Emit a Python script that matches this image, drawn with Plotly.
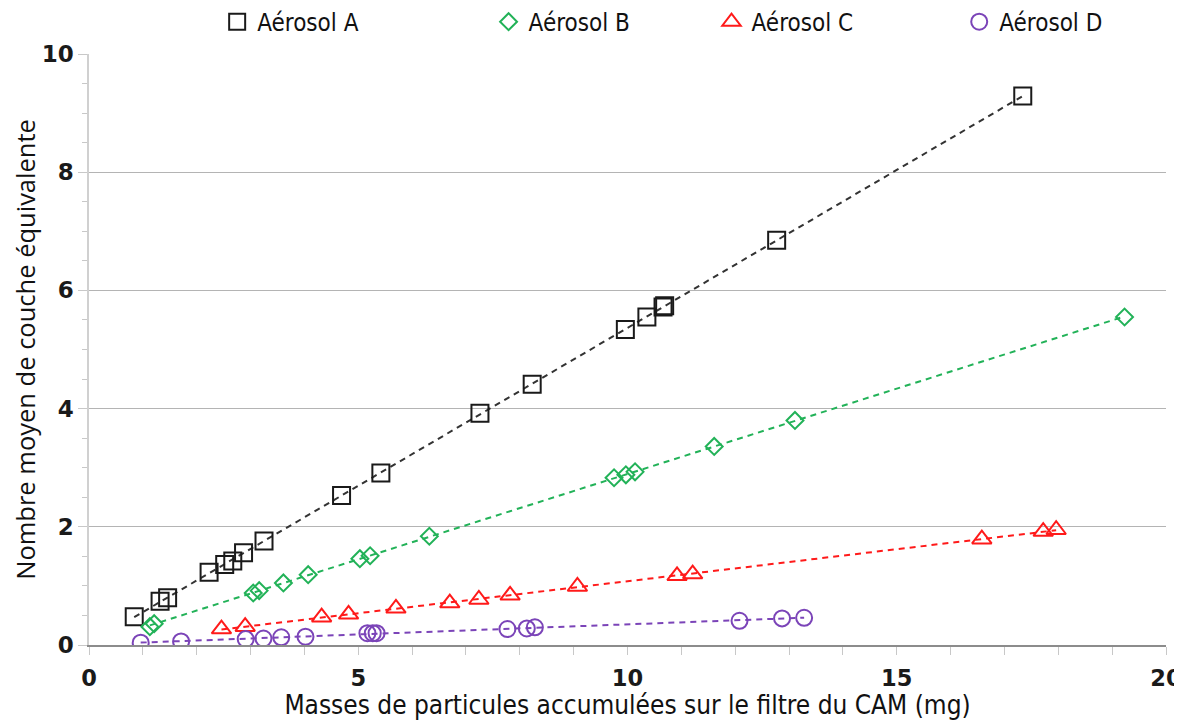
import numpy as np
import plotly.graph_objects as go

# masses (mg) / nombre moyen de couche équivalente
a_x = [0.84, 1.32, 1.46, 2.23, 2.52, 2.67, 2.87, 3.25, 4.69, 5.42, 7.26, 8.23, 9.96, 10.36, 10.66, 10.69, 12.77, 17.34]
a_y = [0.48, 0.74, 0.80, 1.23, 1.36, 1.42, 1.56, 1.76, 2.53, 2.91, 3.92, 4.41, 5.34, 5.55, 5.72, 5.74, 6.85, 9.29]

b_x = [1.13, 1.21, 3.05, 3.16, 3.61, 4.07, 5.03, 5.22, 6.32, 9.75, 9.97, 10.14, 11.61, 13.11, 19.23]
b_y = [0.31, 0.36, 0.88, 0.92, 1.05, 1.19, 1.46, 1.51, 1.84, 2.83, 2.88, 2.93, 3.36, 3.80, 5.55]

c_x = [2.46, 2.90, 4.32, 4.82, 5.70, 6.70, 7.24, 7.82, 9.07, 10.92, 11.21, 16.58, 17.72, 17.96]
c_y = [0.27, 0.31, 0.47, 0.52, 0.62, 0.71, 0.77, 0.84, 0.99, 1.17, 1.20, 1.79, 1.92, 1.95]

d_x = [0.96, 1.71, 2.91, 3.24, 3.57, 4.02, 5.17, 5.27, 5.34, 7.77, 8.13, 8.28, 12.08, 12.87, 13.28]
d_y = [0.04, 0.06, 0.10, 0.11, 0.13, 0.14, 0.20, 0.20, 0.20, 0.27, 0.28, 0.30, 0.41, 0.45, 0.46]

names = ["Aérosol A", "Aérosol B", "Aérosol C", "Aérosol D"]

series = [
    (a_x, a_y, "square-open", "#1a1a1a", "#333333", 17),
    (b_x, b_y, "diamond-open", "#22b258", "#22b258", 13),
    (c_x, c_y, "triangle-up-open", "#ff1a1a", "#ff1a1a", 17),
    (d_x, d_y, "circle-open", "#7b44b8", "#7b44b8", 16),
]
legend_x = [0.119, 0.371, 0.578, 0.808]

fig = go.Figure()
for i, (xs, ys, sym, col, lcol, sz) in enumerate(series):
    # courbe de tendance linéaire
    slope, icpt = np.polyfit(xs, ys, 1)
    xl = [min(xs), max(xs)]
    fig.add_trace(go.Scatter(x=xl, y=[slope * v + icpt for v in xl], mode="lines",
                             line=dict(color=lcol, width=2, dash="6px,5px"),
                             showlegend=False, hoverinfo="skip"))
    lg = "legend" if i == 0 else "legend%d" % (i + 1)
    fig.add_trace(go.Scatter(x=xs, y=ys, mode="markers", name=names[i], legend=lg,
                             marker=dict(symbol=sym, size=sz, color=col, line=dict(width=2, color=col))))

condensed = "DejaVu Sans Condensed, Liberation Sans Narrow, DejaVu Sans, sans-serif"
legend_font = dict(family=condensed, size=24, color="#111111")
legends = {}
for i, lx in enumerate(legend_x):
    key = "legend" if i == 0 else "legend%d" % (i + 1)
    legends[key] = dict(x=lx, y=1.054, xanchor="left", yanchor="middle", orientation="h",
                        font=legend_font, bgcolor="rgba(0,0,0,0)")

# la page ajoute une marge de 8 px autour de la figure
fig.update_layout(
    width=1174,
    height=712,
    margin=dict(l=81, r=16, t=46, b=75, autoexpand=False),
    plot_bgcolor="white",
    paper_bgcolor="white",
    font=dict(family="DejaVu Sans, sans-serif", size=18, color="#111111"),
    xaxis=dict(
        range=[0, 20], dtick=5, tick0=0,
        showgrid=False, zeroline=False,
        showline=True, linecolor="#8c8c8c", linewidth=1.5,
        ticks="outside", ticklen=8, tickcolor="#c8c8c8",
        minor=dict(dtick=1, ticks="outside", ticklen=8, tickcolor="#c8c8c8"),
        ticklabeloverflow="allow", ticklabelstandoff=4,
        tickfont=dict(family="DejaVu Sans, sans-serif", size=22.5, color="#1a1a1a", weight="bold"),
        title=dict(text="Masses de particules accumulées sur le filtre du CAM (mg)", standoff=12,
                   font=dict(family=condensed, size=26, color="#111111")),
    ),
    yaxis=dict(
        range=[0, 10], dtick=2, tick0=0,
        showgrid=True, gridcolor="#b4b4b4", gridwidth=1.2, zeroline=False,
        showline=True, linecolor="#d0d0d0", linewidth=1.5,
        ticks="outside", ticklen=9, tickcolor="#c8c8c8",
        minor=dict(dtick=0.5, ticks="outside", ticklen=5, tickcolor="#c8c8c8", showgrid=False),
        tickfont=dict(family="DejaVu Sans, sans-serif", size=23, color="#1a1a1a", weight="bold"),
        title=dict(text="Nombre moyen de couche équivalente", standoff=8,
                   font=dict(family="Open Sans, DejaVu Sans, sans-serif", size=25.5, color="#111111")),
    ),
    **legends,
)

fig.write_html("out.html")
